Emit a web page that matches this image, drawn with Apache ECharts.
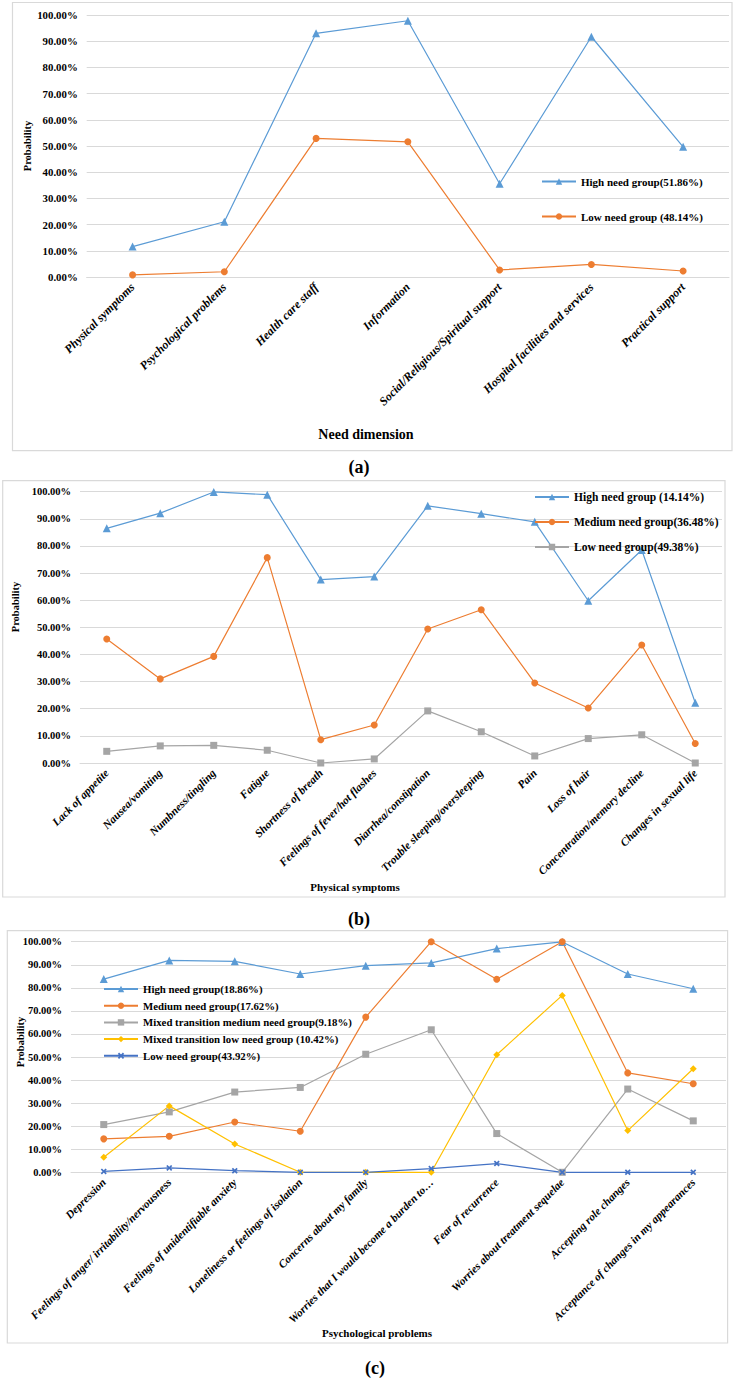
<!DOCTYPE html>
<html><head><meta charset="utf-8">
<script src="https://cdn.jsdelivr.net/npm/echarts@6/dist/echarts.min.js"></script>
<style>html,body{margin:0;padding:0;background:#fff}#c{width:735px;height:1380px}</style>
</head><body><div id="c"></div>
<script>
// ---------- DATA ----------
const catsA = ['Physical symptoms','Psychological problems','Health care staff','Information','Social/Religious/Spiritual support','Hospital facilities and services','Practical support'];
const namesA = ['High need group(51.86%)','Low need group (48.14%)'];
const highA = [11.6, 21.1, 93.0, 97.8, 35.6, 91.7, 49.7];
const lowA  = [0.8, 2.0, 52.9, 51.6, 2.7, 4.8, 2.3];

const catsB = ['Lack of appetite','Nausea/vomiting','Numbness/tingling','Fatigue','Shortness of breath','Feelings of fever/hot flashes','Diarrhea/constipation','Trouble sleeping/oversleeping','Pain','Loss of hair','Concentration/memory decline','Changes in sexual life'];
const namesB = ['High need group (14.14%)','Medium need group(36.48%)','Low need group(49.38%)'];
const highB = [86.5, 92.1, 99.9, 98.9, 67.6, 68.7, 94.8, 91.9, 88.9, 59.8, 78.5, 22.2];
const medB  = [45.7, 31.0, 39.3, 75.7, 8.6, 14.0, 49.4, 56.5, 29.5, 20.3, 43.5, 7.2];
const lowB  = [4.3, 6.3, 6.5, 4.7, 0.0, 1.5, 19.2, 11.5, 2.6, 9.0, 10.4, 0.0];

const catsC = ['Depression','Feelings of anger/ irritability/nervousness','Feelings of unidentifiable anxiety','Loneliness or feelings of isolation','Concerns about my family','Worries that I would become a burden to\u2026','Fear of recurrence','Worries about treatment sequelae','Accepting role changes','Acceptance of changes in my appearances'];
const namesC = ['High need group(18.86%)','Medium need group(17.62%)','Mixed transition medium need group(9.18%)','Mixed transition low need group (10.42%)','Low need group(43.92%)'];
const highC   = [83.8, 91.9, 91.5, 86.0, 89.6, 90.8, 97.0, 99.9, 86.0, 79.6];
const medC    = [14.5, 15.6, 21.8, 17.8, 67.3, 100, 83.7, 100, 43.1, 38.4];
const mixMedC = [20.7, 26.2, 34.8, 36.8, 51.2, 61.8, 16.8, 0, 36.1, 22.3];
const mixLowC = [6.5, 28.8, 12.3, 0, 0, 0, 51.0, 76.7, 18.1, 44.9];
const lowC    = [0.4, 1.9, 0.7, 0, 0, 1.6, 3.8, 0, 0, 0];

const yName = 'Probability';
const xNames = ['Need dimension','Physical symptoms','Psychological problems'];
const panelLabels = ['(a)','(b)','(c)'];

// ---------- STYLE ----------
const FONT = '"Liberation Serif","Times New Roman",serif';
const C_BLUE='#5B9BD5', C_ORANGE='#ED7D31', C_GRAY='#A5A5A5', C_YELLOW='#FFC000', C_DBLUE='#4472C4';
const GRIDC = '#D9D9D9';
const X_SYM = 'path://M0,2 L2,0 L5,3 L8,0 L10,2 L7,5 L10,8 L8,10 L5,7 L2,10 L0,8 L3,5 Z';

const grids = [
  {left:86.7, top:15, width:642.3, height:262},
  {left:80, top:491.7, width:642, height:271.3},
  {left:71, top:941.7, width:655, height:230.6}
];
const yFont = [10.8, 10.5, 10.5];
const xFont = [12, 11.3, 11.2];

function xAx(i, cats){
  return {type:'category', gridIndex:i, data:cats, boundaryGap:true,
    axisLine:{lineStyle:{color:GRIDC}}, axisTick:{show:false},
    axisLabel:{rotate:45, interval:0, margin:8, color:'#000', fontFamily:FONT, fontWeight:'bold', fontStyle:'italic', fontSize:xFont[i]}};
}
function yAx(i){
  return {type:'value', gridIndex:i, min:0, max:100, interval:10,
    axisLine:{show:false}, axisTick:{show:false},
    splitLine:{lineStyle:{color:GRIDC, width:1}},
    axisLabel:{margin:9, color:'#000', fontFamily:FONT, fontWeight:'bold', fontSize:yFont[i],
      formatter:v=>v.toFixed(2)+'%'}};
}
function ser(i, name, data, color, symbol, size){
  return {type:'line', name, data, xAxisIndex:i, yAxisIndex:i, color,
    symbol, symbolSize:size, showAllSymbol:true,
    lineStyle:{color, width:1.2}, itemStyle:{color, borderWidth:0}, emphasis:{disabled:true}, z:3};
}

const series = [
  ser(0, namesA[0], highA, C_BLUE, 'triangle', 8),
  ser(0, namesA[1], lowA, C_ORANGE, 'circle', 7),
  ser(1, namesB[0], highB, C_BLUE, 'triangle', 8),
  ser(1, namesB[1], medB, C_ORANGE, 'circle', 7),
  ser(1, namesB[2], lowB, C_GRAY, 'rect', 7),
  ser(2, namesC[0], highC, C_BLUE, 'triangle', 8),
  ser(2, namesC[1], medC, C_ORANGE, 'circle', 7),
  ser(2, namesC[2], mixMedC, C_GRAY, 'rect', 7),
  ser(2, namesC[3], mixLowC, C_YELLOW, 'diamond', 7),
  ser(2, namesC[4], lowC, C_DBLUE, X_SYM, 6)
];

function leg(names, left, top, gap, fs){
  return {data:names, orient:'vertical', left, top, itemGap:gap, itemWidth:34, itemHeight:8,
    selectedMode:false, padding:0,
    textStyle:{color:'#000', fontFamily:FONT, fontWeight:'bold', fontSize:fs}};
}

function txt(x, y, text, size, rot){
  return {type:'text', x, y, rotation:rot||0, silent:true,
    style:{text, fill:'#000', font:'bold '+size+'px '+FONT, align:'center', verticalAlign:'middle'}};
}
function frame(x1,y1,x2,y2){
  return {type:'rect', silent:true, shape:{x:x1, y:y1, width:x2-x1, height:y2-y1},
    style:{fill:'none', stroke:GRIDC, lineWidth:1.2}, z:-1};
}

const chart = echarts.init(document.getElementById('c'), null, {renderer:'svg'});
chart.setOption({
  animation:false,
  backgroundColor:'#fff',
  grid: grids,
  xAxis:[xAx(0,catsA), xAx(1,catsB), xAx(2,catsC)],
  yAxis:[yAx(0), yAx(1), yAx(2)],
  legend:[
    leg(namesA, 541, 176, 24, 11),
    leg(namesB, 534, 491, 13, 11.5),
    leg(namesC, 103, 983.5, 5.7, 10.8)
  ],
  series,
  graphic:[
    frame(12.5, 2.5, 732, 450.7),
    frame(2.7, 480.7, 725, 897),
    frame(7.3, 930.7, 727.6, 1343),
    txt(27, 146, yName, 10.5, Math.PI/2),
    txt(15, 607, yName, 10.5, Math.PI/2),
    txt(20, 1042, yName, 10.5, Math.PI/2),
    txt(366, 434, xNames[0], 14),
    txt(355, 887, xNames[1], 11),
    txt(377, 1333, xNames[2], 11),
    txt(359, 467, panelLabels[0], 18),
    txt(359, 919, panelLabels[1], 18),
    txt(375, 1368, panelLabels[2], 18)
  ]
});
</script></body></html>
